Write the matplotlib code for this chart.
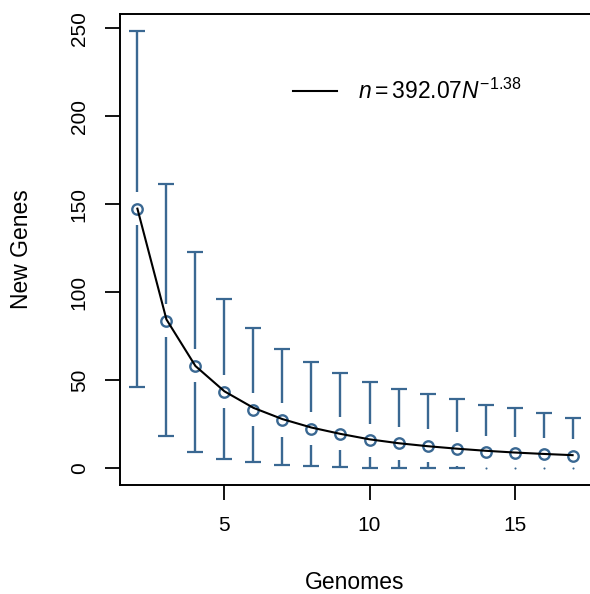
import numpy as np
import matplotlib
matplotlib.use("Agg")
import matplotlib.pyplot as plt

plt.rcParams["font.family"] = ["Liberation Sans", "DejaVu Sans"]
plt.rcParams["mathtext.fontset"] = "custom"
plt.rcParams["mathtext.rm"] = "Liberation Sans"
plt.rcParams["mathtext.it"] = "Liberation Sans:italic"

### values
genomes = [2, 3, 4, 5, 6, 7, 8, 9, 10, 11, 12, 13, 14, 15, 16, 17]
mean_new = [147.5, 83.7, 58.1, 43.3, 33.0, 27.3, 22.2, 19.4, 15.9, 14.1, 12.7, 10.8, 8.9, 8.4, 7.8, 7.0]
upper = [248.3, 161.7, 123.0, 96.2, 79.7, 67.8, 60.4, 54.1, 49.1, 44.8, 42.1, 39.1, 35.9, 34.0, 31.2, 28.3]
lower = [46.1, 18.2, 9.1, 5.1, 3.4, 1.7, 1.1, 0.6, 0.2, 0.2, 0.2, 0.2, -0.2, -0.2, -0.2, -0.2]
fitted = [147.5, 84.5, 58.0, 43.6, 34.2, 27.8, 23.0, 19.4, 16.3, 14.1, 12.4, 11.0, 9.8, 8.8, 8.0, 7.3]
fit_label = r"$n = 392.07N^{-1.38}$"

col = "#3a6892"
gap = 9.4  # gap around the points, in data units

fig = plt.figure(figsize=(5.9, 5.94), dpi=100)
ax = fig.add_axes([120/590., 1 - 484.7/594., 470/590., 470.7/594.])

x = np.array(genomes, dtype=float)
y = np.array(mean_new)
hi = np.array(upper)
lo = np.array(lower)

# upper bars with caps
ax.vlines(x, y + gap, hi, color=col, lw=1.7)
ax.plot(x, hi, ls="none", marker="_", ms=11.5, mew=1.6, color=col)

# lower bars: where the gap swallows the bar only a dot is left
lo_end = np.maximum(y - gap, lo)
full = lo_end > lo
ax.vlines(x[full], lo[full], lo_end[full], color=col, lw=1.7)
ax.plot(x[full], lo[full], ls="none", marker="_", ms=11.5, mew=1.6, color=col)
ax.plot(x[~full], lo[~full], ls="none", marker="o", ms=1.5, mew=0, color=col)

ax.plot(x, y, ls="none", marker="o", ms=7.5, mfc="none", mec=col, mew=1.7)
ax.plot(x, fitted, color="black", lw=1.5, label=fit_label)

ax.set_xlim(1.4, 17.6)
ax.set_ylim(-9.5, 258.2)
ax.set_xticks([5, 10, 15])
ax.set_yticks([0, 50, 100, 150, 200, 250])
ax.tick_params(labelsize=15, length=10.5, width=1.3, pad=12)
for lab in ax.get_yticklabels():
    lab.set_rotation(90)
    lab.set_va("center")
ax.spines["right"].set_visible(False)
for s in ["left", "top", "bottom"]:
    ax.spines[s].set_linewidth(1.4)

ax.legend(loc="center left", bbox_to_anchor=(0.368, 0.836), frameon=False, fontsize=16.5,
          handlelength=1.9, handletextpad=0.95, borderpad=0, borderaxespad=0)

fig.text(22/590., 1 - 249.5/594., "New Genes", rotation=90, ha="center", va="center", fontsize=16.5)
fig.text(355/590., 1 - 589/594., "Genomes", ha="center", va="baseline", fontsize=16.5)

fig.savefig("out.png", dpi=100)
